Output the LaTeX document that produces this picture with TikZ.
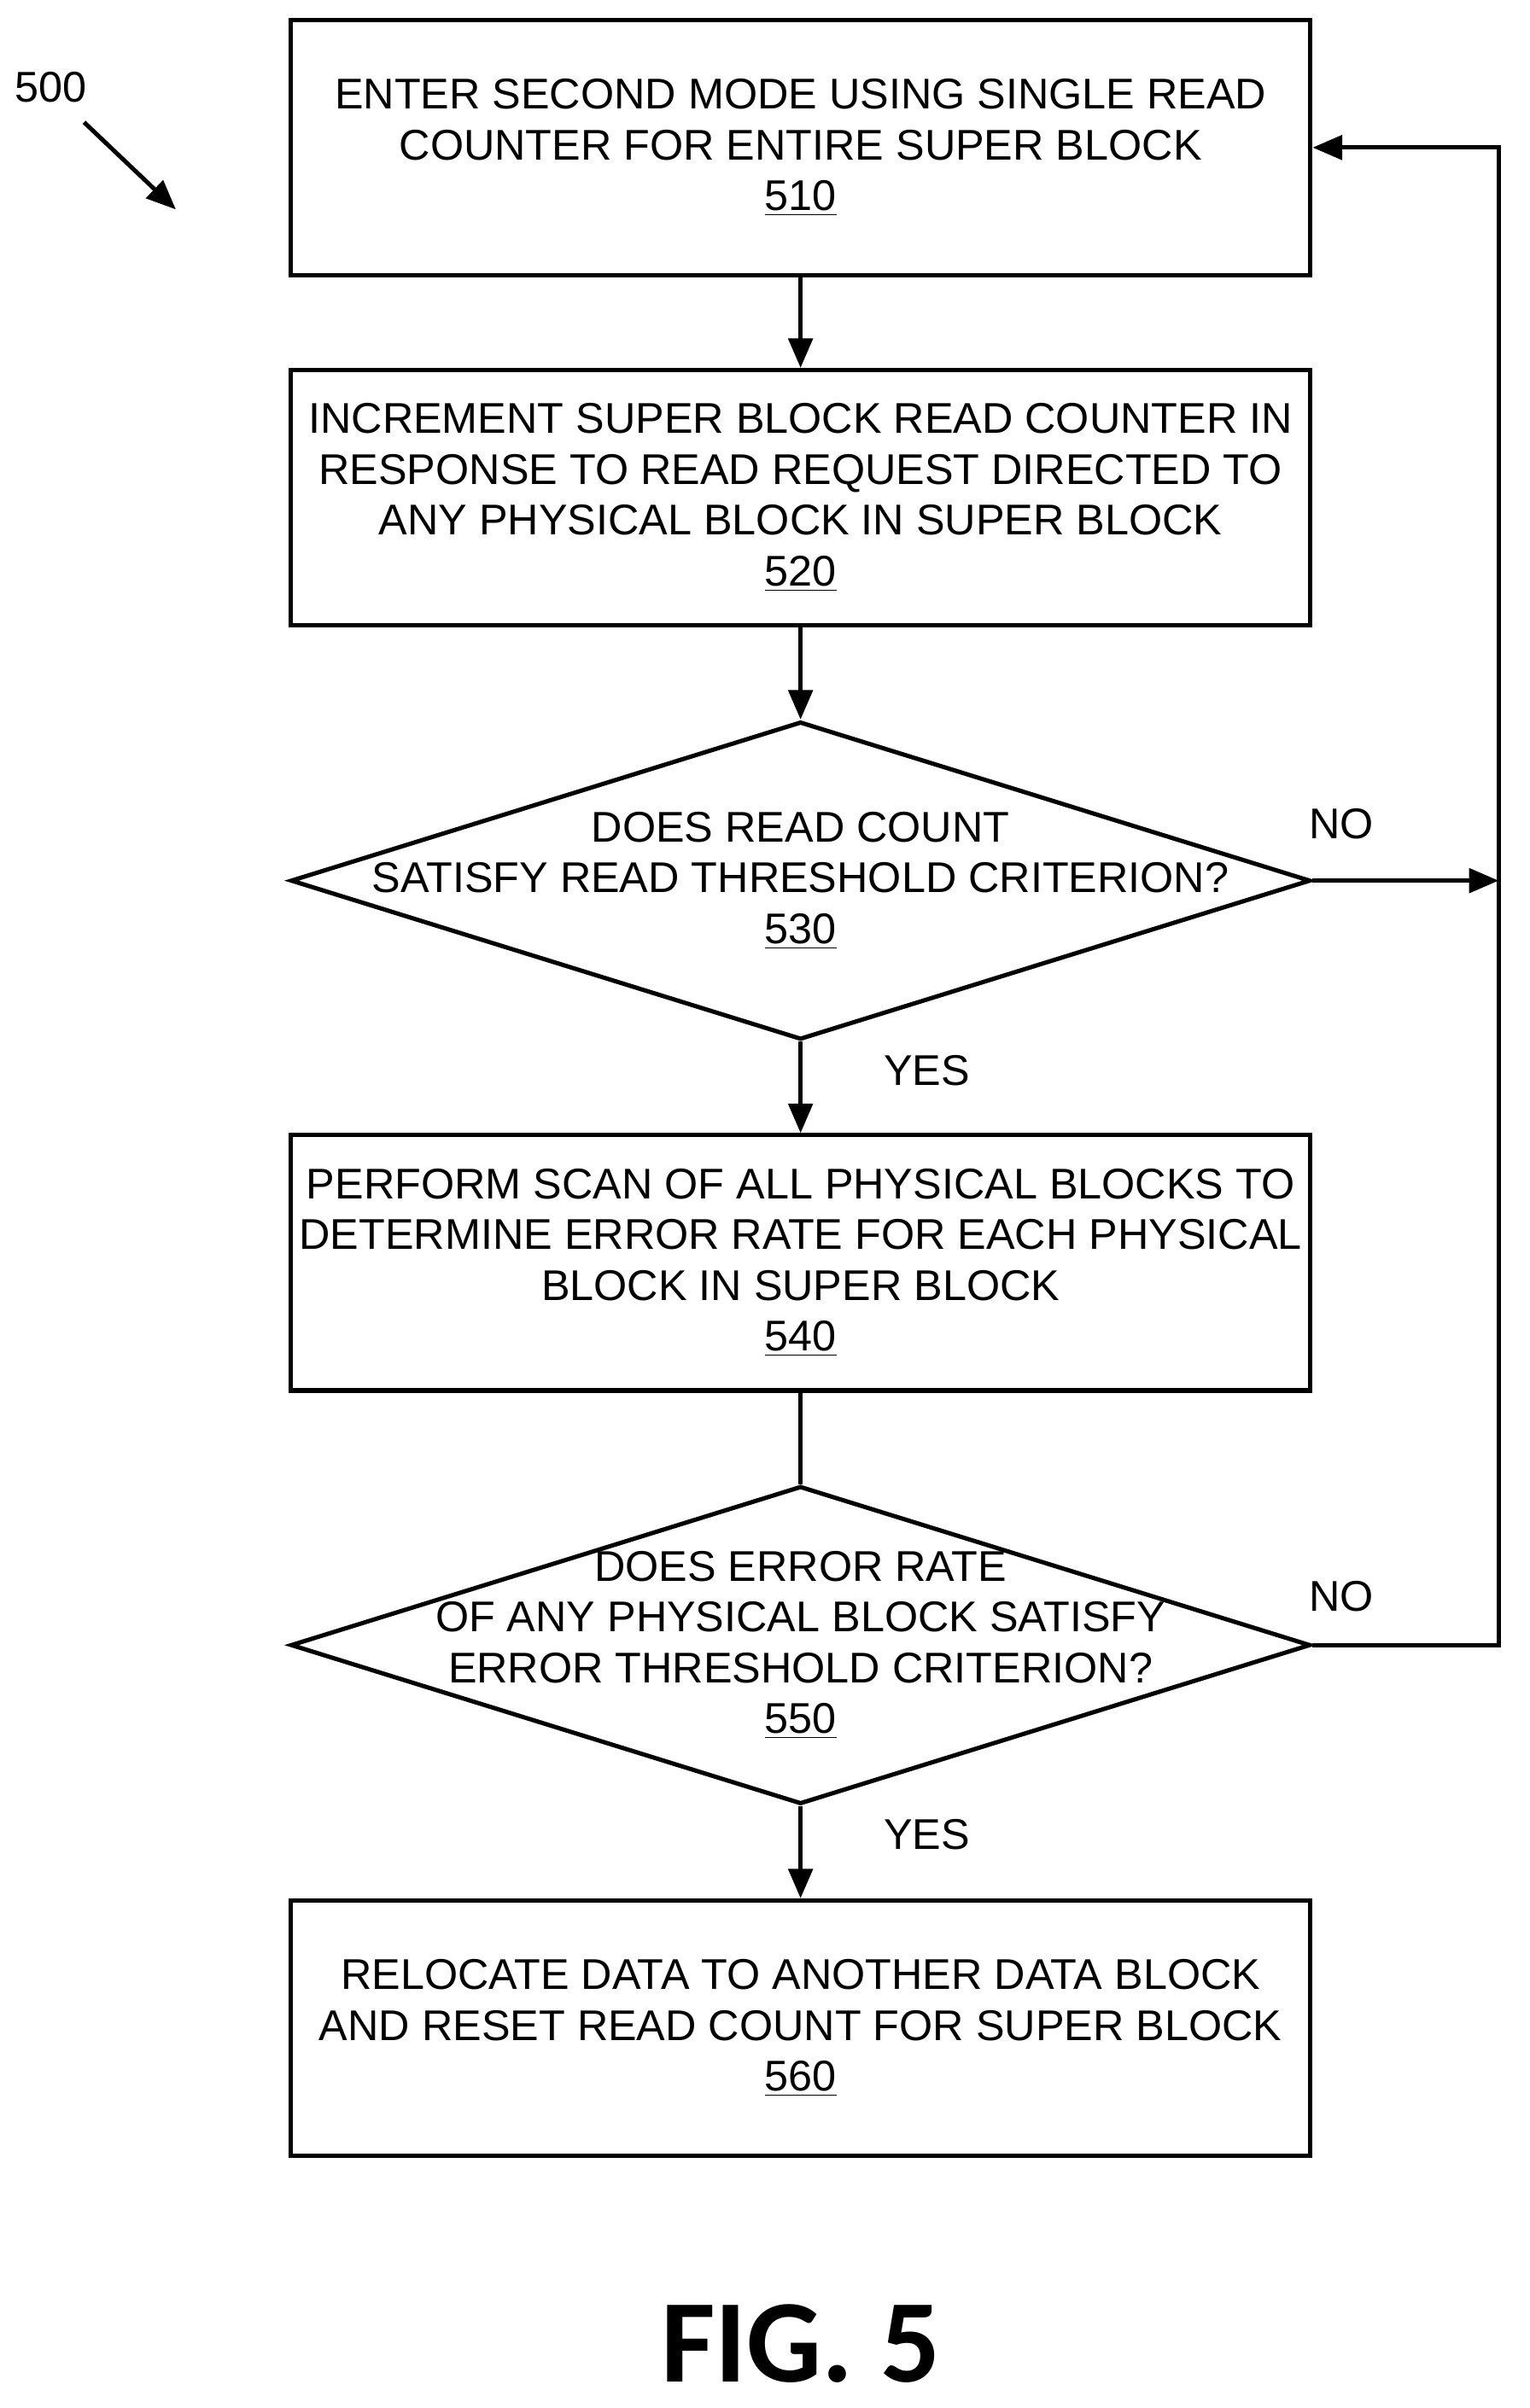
\documentclass[tikz,border=0pt]{standalone}
\usepackage{fontspec}
\setmainfont{Liberation Sans}
\newfontfamily\figfont{Carlito}
\usetikzlibrary{shapes.geometric,arrows.meta}

\tikzset{
  box/.style={draw, line width=1.6pt, minimum width=13.34cm, minimum height=3.34cm, inner sep=0pt},
  dia/.style={draw, diamond, line width=1.6pt, aspect=3.2, minimum width=13.34cm, minimum height=4.16cm, inner sep=0pt},
  txt/.style={align=center, font=\fontsize{16}{18.9}\selectfont},
  lab/.style={font=\fontsize{16}{18.9}\selectfont},
  flow/.style={line width=1.6pt, -{Triangle[length=11pt,width=9pt]}},
  line/.style={line width=1.6pt}
}

\begin{document}
\begin{tikzpicture}[x=0.02cm, y=-0.02cm]
        \useasboundingbox (0,0) rectangle (1000,1575);

        % blocks
        \node[box] (b510) at (523.5, 96.5) {};
        \node[txt] at (b510) {ENTER SECOND MODE USING SINGLE READ\\COUNTER FOR ENTIRE SUPER BLOCK\\\underline{510}};
        \node[box] (b520) at (523.5, 325.5) {};
        \node[txt] at (b520) {INCREMENT SUPER BLOCK READ COUNTER IN\\RESPONSE TO READ REQUEST DIRECTED TO\\ANY PHYSICAL BLOCK IN SUPER BLOCK\\\underline{520}};
        \node[dia] (d530) at (523.5, 576) {};
        \node[txt] at (d530) {DOES READ COUNT\\SATISFY READ THRESHOLD CRITERION?\\\underline{530}};
        \node[box] (b540) at (523.5, 826) {};
        \node[txt] at (b540) {PERFORM SCAN OF ALL PHYSICAL BLOCKS TO\\DETERMINE ERROR RATE FOR EACH PHYSICAL\\BLOCK IN SUPER BLOCK\\\underline{540}};
        \node[dia] (d550) at (523.5, 1076) {};
        \node[txt] at (d550) {DOES ERROR RATE\\OF ANY PHYSICAL BLOCK SATISFY\\ERROR THRESHOLD CRITERION?\\\underline{550}};
        \node[box] (b560) at (523.5, 1326.5) {};
        \node[txt] at (b560) {RELOCATE DATA TO ANOTHER DATA BLOCK\\AND RESET READ COUNT FOR SUPER BLOCK\\\underline{560}};

        % loop back line
        \coordinate (r550) at (980, 1076);
        \coordinate (r530) at (980, 576);
        \coordinate (r510) at (980, 96.5);

        % connectors
        \draw[flow] (b510) -- (b520);
        \draw[flow] (b520) -- (d530);
        \draw[flow] (d530) -- (b540);
        \draw[line] (b540) -- (d550);
        \draw[flow] (d550) -- (b560);
        \draw[flow] (d530.east) -- (r530);
        \draw[flow] (d550.east) -- (r550) -- (r510) -- (b510.east);

        % labels
        \node[lab] at (877, 539) {NO};
        \node[lab] at (877, 1044) {NO};
        \node[lab] at (606, 700) {YES};
        \node[lab] at (606, 1200) {YES};

        \node[lab] (n500) at (33, 57) {500};
        \coordinate (a500) at (115, 137);
        \draw[flow] (55, 80) -- (a500);

        \node[font=\figfont\bfseries\fontsize{44}{48}\selectfont] (fig) at (523.5, 1533) {FIG. 5};
\end{tikzpicture}
\end{document}
